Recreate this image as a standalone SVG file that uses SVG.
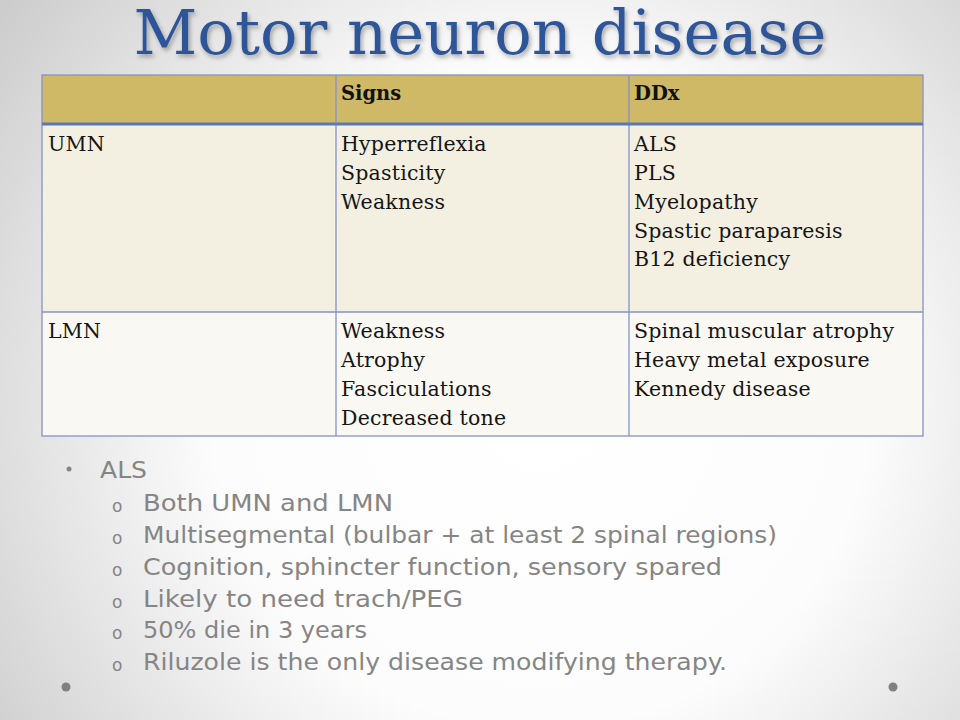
<svg xmlns="http://www.w3.org/2000/svg" width="960" height="720" viewBox="0 0 960 720">
  <defs>
    <radialGradient id="bg" cx="540" cy="400" r="660" gradientUnits="userSpaceOnUse">
      <stop offset="0" stop-color="#FFFFFF"/>
      <stop offset="0.5" stop-color="#FCFCFC"/>
      <stop offset="1" stop-color="#CDCDCD"/>
    </radialGradient>
    <filter id="shadow" x="-10%" y="-20%" width="120%" height="150%">
      <feDropShadow dx="2" dy="3" stdDeviation="2" flood-color="#000000" flood-opacity="0.3"/>
    </filter>
    <style>
      .title { font-family: "DejaVu Serif", "Liberation Serif", serif; font-size: 61px; fill: #2F5597; }
      .cell { font-family: "DejaVu Serif", "Liberation Serif", serif; font-size: 20.5px; letter-spacing: 0.2px; fill: #151515; }
      .head { font-family: "DejaVu Serif", "Liberation Serif", serif; font-size: 19.5px; font-weight: bold; fill: #111111; }
      .grid { stroke: #8593C6; stroke-width: 1.3; fill: none; }
      .bul { font-family: "DejaVu Sans", "Liberation Sans", sans-serif; font-size: 22.5px; fill: #858585; }
      .sub { font-family: "DejaVu Sans", "Liberation Sans", sans-serif; font-size: 17px; fill: #858585; }
    </style>
  </defs>
  <rect x="0" y="0" width="960" height="720" fill="url(#bg)"/>

  <g id="title">
    <text class="title" x="480" y="54" text-anchor="middle" textLength="693" lengthAdjust="spacingAndGlyphs" filter="url(#shadow)">Motor neuron disease</text>
  </g>

  <g id="table">
    <rect x="42" y="75" width="881" height="49" fill="#CFB966"/>
    <rect x="42" y="124" width="881" height="188" fill="#F3EFE1"/>
    <rect x="42" y="312" width="881" height="124" fill="#FAF8F3"/>
    <g class="grid">
      <rect x="42" y="75" width="881" height="361"/>
      <line x1="336" y1="75" x2="336" y2="436"/>
      <line x1="629" y1="75" x2="629" y2="436"/>
      <line x1="42" y1="312" x2="923" y2="312"/>
    </g>
    <line x1="42" y1="124" x2="923" y2="124" stroke="#5A78B8" stroke-width="3"/>
    <text class="head" x="341" y="100">Signs</text>
    <text class="head" x="634" y="100">DDx</text>
    <text class="cell" x="48" y="151">UMN</text>
    <text class="cell" x="341" y="151">Hyperreflexia</text>
    <text class="cell" x="341" y="180">Spasticity</text>
    <text class="cell" x="341" y="209">Weakness</text>
    <text class="cell" x="634" y="151">ALS</text>
    <text class="cell" x="634" y="180">PLS</text>
    <text class="cell" x="634" y="209">Myelopathy</text>
    <text class="cell" x="634" y="238">Spastic paraparesis</text>
    <text class="cell" x="634" y="266">B12 deficiency</text>
    <text class="cell" x="48" y="338">LMN</text>
    <text class="cell" x="341" y="338">Weakness</text>
    <text class="cell" x="341" y="367">Atrophy</text>
    <text class="cell" x="341" y="396">Fasciculations</text>
    <text class="cell" x="341" y="425">Decreased tone</text>
    <text class="cell" x="634" y="338">Spinal muscular atrophy</text>
    <text class="cell" x="634" y="367">Heavy metal exposure</text>
    <text class="cell" x="634" y="396">Kennedy disease</text>
  </g>

  <g id="bullets">
    <circle cx="69" cy="469" r="2.5" fill="#858585"/>
    <text class="bul" x="100" y="478" textLength="47" lengthAdjust="spacingAndGlyphs">ALS</text>
    <text class="sub" x="112" y="512">o</text>
    <text class="bul" x="143" y="511" textLength="250" lengthAdjust="spacingAndGlyphs">Both UMN and LMN</text>
    <text class="sub" x="112" y="544">o</text>
    <text class="bul" x="143" y="543" textLength="634" lengthAdjust="spacingAndGlyphs">Multisegmental (bulbar + at least 2 spinal regions)</text>
    <text class="sub" x="112" y="576">o</text>
    <text class="bul" x="143" y="575" textLength="579" lengthAdjust="spacingAndGlyphs">Cognition, sphincter function, sensory spared</text>
    <text class="sub" x="112" y="608">o</text>
    <text class="bul" x="143" y="607" textLength="320" lengthAdjust="spacingAndGlyphs">Likely to need trach/PEG</text>
    <text class="sub" x="112" y="639">o</text>
    <text class="bul" x="143" y="638" textLength="224" lengthAdjust="spacingAndGlyphs">50% die in 3 years</text>
    <text class="sub" x="112" y="671">o</text>
    <text class="bul" x="143" y="670" textLength="584" lengthAdjust="spacingAndGlyphs">Riluzole is the only disease modifying therapy.</text>
  </g>

  <g id="corner-dots" fill="#808080">
    <circle cx="66" cy="687" r="4.5"/>
    <circle cx="893" cy="687" r="4.5"/>
  </g>
</svg>
